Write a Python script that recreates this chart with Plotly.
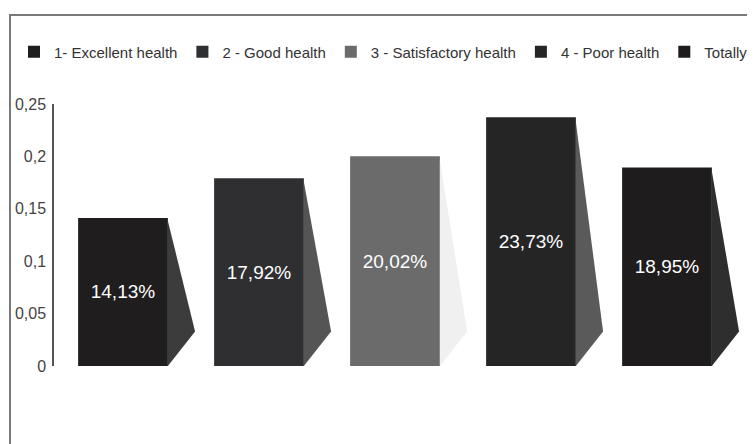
import plotly.graph_objects as go

categories = ["1- Excellent health", "2 - Good health", "3 - Satisfactory health",
              "4 - Poor health", "Totally"]
values = [0.1413, 0.1792, 0.2002, 0.2373, 0.1895]
bar_colors = ["#201d1e", "#2f2e30", "#6b6b6b", "#262526", "#1f1c1d"]
side_colors = ["#3c3c3c", "#555555", "#f0f0f0", "#5a5a5a", "#2e2e2e"]
y_ticks = [0, 0.05, 0.1, 0.15, 0.2, 0.25]

# page body has an 8px offset; figure coordinates = screen - 8
OFF = 8
W, H = 755 - OFF, 444 - OFF
ML, MR, MT, MB = 54 - OFF, 0, 104 - OFF, H - (366 - OFF)
pw, ph = W - ML - MR, H - MT - MB

BAR_W = 0.66      # front face width (category units)
SIDE_W = 0.2      # depth of the side wedge
SIDE_Y = 0.033    # height of the wedge's outer corner

fig = go.Figure()
for i, (name, v, c, sc) in enumerate(zip(categories, values, bar_colors, side_colors)):
    xr = i + BAR_W / 2
    fig.add_trace(go.Scatter(
        x=[xr, xr + SIDE_W, xr, xr], y=[v * 0.98, SIDE_Y, 0, v * 0.98],
        fill="toself", fillcolor=sc, mode="lines", line=dict(width=0, color=sc),
        showlegend=False, hoverinfo="skip",
    ))
    fig.add_trace(go.Bar(
        x=[i], y=[v], name=name, width=BAR_W,
        marker=dict(color=c, line=dict(width=0)),
        texttemplate="%{y:.2%}", textposition="inside",
        insidetextanchor="middle",
        textfont=dict(color="white", size=19, family="Liberation Sans, Arial"),
        hoverinfo="skip",
    ))

def px_x(p):
    return (p - OFF - ML) / pw

def px_y(p):
    return (H - MB - (p - OFF)) / ph

fig.add_shape(type="rect", xref="paper", yref="paper",
              x0=px_x(10), x1=px_x(800), y0=px_y(470), y1=px_y(15),
              line=dict(color="#7a7a7a", width=2), fillcolor="rgba(0,0,0,0)",
              layer="below")

unit = 136.0
x0 = -(123 - 54) / unit
fig.update_layout(
    width=W, height=H,
    margin=dict(l=ML, r=MR, t=MT, b=MB, pad=0),
    paper_bgcolor="white", plot_bgcolor="white",
    separators=", ",
    barmode="overlay",
    font=dict(family="Liberation Sans, Arial", color="#333333"),
    showlegend=True,
    legend=dict(orientation="h", x=px_x(14), xanchor="left",
                y=px_y(52), yanchor="middle",
                font=dict(size=15, color="#333333"),
                itemwidth=30, bgcolor="rgba(0,0,0,0)", borderwidth=0,
                itemclick=False, itemdoubleclick=False),
    xaxis=dict(range=[x0, x0 + pw / unit], showticklabels=False, showline=False,
               showgrid=False, zeroline=False, ticks=""),
    yaxis=dict(range=[0, 0.25], tickvals=y_ticks, showgrid=False,
               zeroline=False, showline=True, linecolor="#555555",
               linewidth=1.5, ticks="", ticklabelstandoff=3,
               tickfont=dict(size=16, color="#444444")),
)

fig.write_html("out.html")
